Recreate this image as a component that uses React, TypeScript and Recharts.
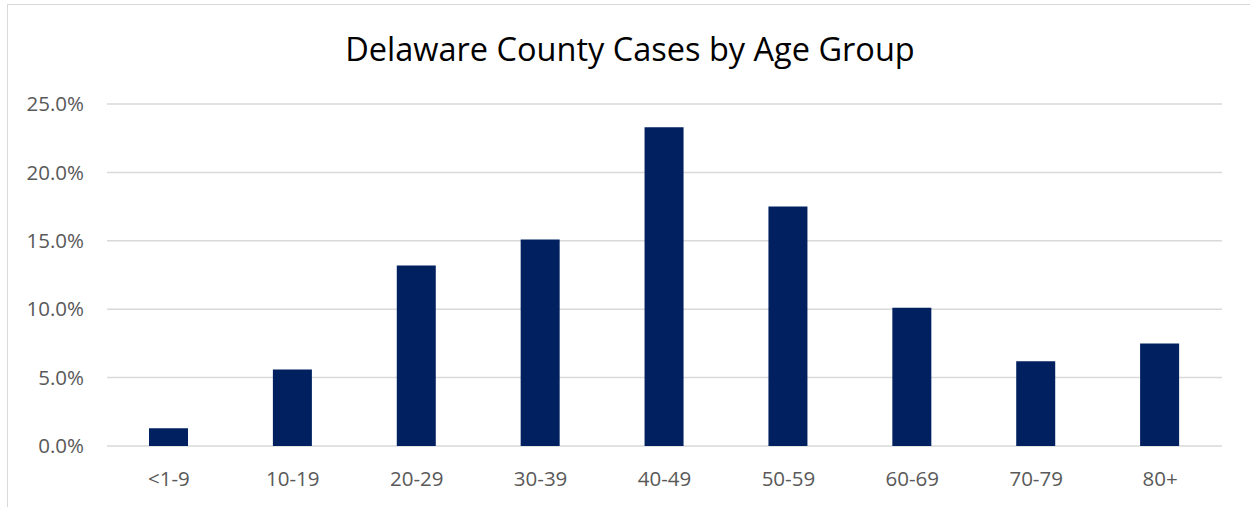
import React from 'react';
import { BarChart, Bar, XAxis, YAxis, CartesianGrid } from 'recharts';

const categories = ['<1-9', '10-19', '20-29', '30-39', '40-49', '50-59', '60-69', '70-79', '80+'];
const casesPct = [1.3, 5.6, 13.2, 15.1, 23.3, 17.5, 10.1, 6.2, 7.5];
const yTicks = [0, 5, 10, 15, 20, 25];

const data = categories.map((c, i) => ({ group: c, value: casesPct[i] }));

const FONT = '"Open Sans", "Noto Sans", sans-serif';

export default function App() {
  return (
    <div style={{ position: 'absolute', left: 0, top: 0, width: 1250, height: 507, overflow: 'hidden', background: '#fff' }}>
      <div style={{ position: 'absolute', left: 7, top: 4, width: 1260, height: 520, border: '1.5px solid #d9d9d9', boxSizing: 'border-box' }} />
      <div style={{ position: 'absolute', left: 0, top: 26, width: 1260, textAlign: 'center', fontFamily: FONT, fontSize: 32.5, color: '#000', lineHeight: '46px' }}>
        Delaware County Cases by Age Group
      </div>
      <div style={{ position: 'absolute', left: 0, top: 0 }}>
        <BarChart width={1250} height={507} data={data} margin={{ top: 104, right: 28, bottom: 0, left: 0 }}>
          <CartesianGrid vertical={false} stroke="#d9d9d9" strokeWidth={1.5} />
          <XAxis
            dataKey="group"
            axisLine={false}
            tickLine={false}
            tickSize={0}
            tickMargin={25}
            tick={{ fill: '#595959', fontSize: 20.5, fontFamily: FONT }}
            interval={0}
            height={61}
          />
          <YAxis
            domain={[0, 25]}
            ticks={yTicks}
            axisLine={false}
            tickLine={false}
            tickSize={0}
            tickMargin={23}
            width={107}
            tickFormatter={(v: number) => v.toFixed(1) + '%'}
            tick={{ fill: '#595959', fontSize: 20.5, fontFamily: FONT }}
          />
          <Bar dataKey="value" fill="#002060" barSize={39} isAnimationActive={false} />
        </BarChart>
      </div>
    </div>
  );
}
